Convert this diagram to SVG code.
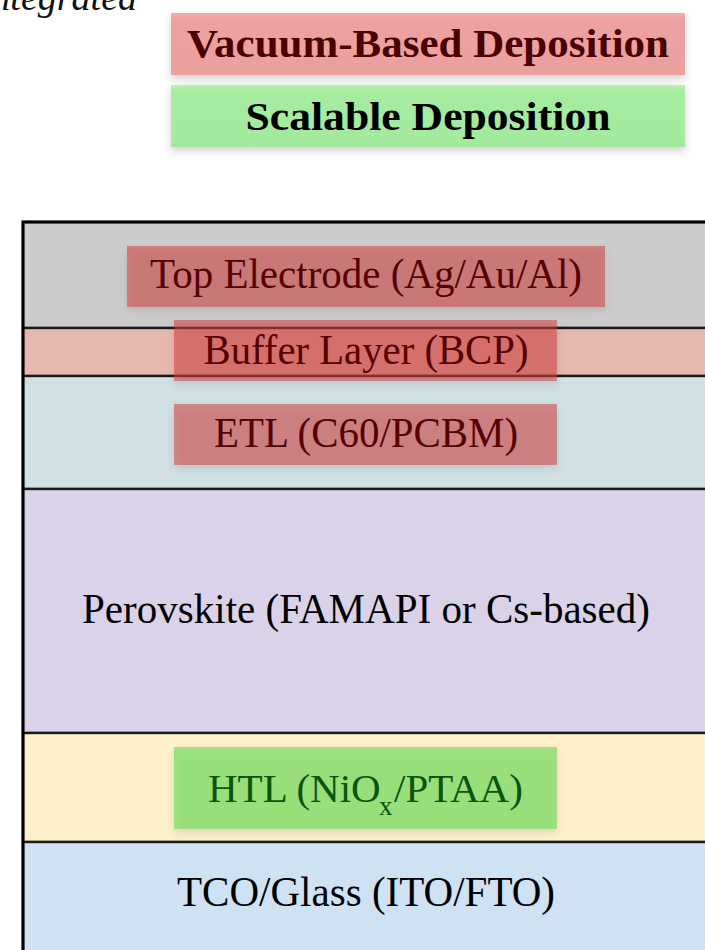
<svg xmlns="http://www.w3.org/2000/svg" width="705" height="950" viewBox="0 0 705 950">
  <defs>
    <filter id="shadow" x="-10%" y="-20%" width="120%" height="150%">
      <feDropShadow dx="0" dy="4" stdDeviation="4" flood-color="#000" flood-opacity="0.18"/>
    </filter>
    <linearGradient id="gVac" x1="0" y1="0" x2="0" y2="1">
      <stop offset="0" stop-color="#f6aaaa"/>
      <stop offset="0.12" stop-color="#eea1a1"/>
      <stop offset="1" stop-color="#eb9f9e"/>
    </linearGradient>
    <linearGradient id="gScal" x1="0" y1="0" x2="0" y2="1">
      <stop offset="0" stop-color="#b0f4a8"/>
      <stop offset="0.12" stop-color="#a5eca0"/>
      <stop offset="1" stop-color="#a3ea9f"/>
    </linearGradient>
  </defs>
  <style>
    .serif { font-family: "Liberation Serif", "Times New Roman", serif; }
    .layer { stroke: #1a1a1a; stroke-width: 2.4; }
    .vac { fill: rgba(208,64,64,0.55); filter: url(#shadow); }
    .scal { fill: rgba(100,220,80,0.6); filter: url(#shadow); }
    .lbl { font-size: 43px; text-anchor: middle; }
    .lblV { fill: #560000; }
    .lblS { fill: #0b540b; }
    .lblN { fill: #000; }
    .legend { font-size: 39px; font-weight: bold; text-anchor: middle; }
  </style>

  <rect width="705" height="950" fill="#ffffff"/>

  <!-- heading fragment -->
  <text class="serif" x="137" y="10" font-size="38" font-style="italic" text-anchor="end" fill="#111">Integrated</text>

  <!-- legend -->
  <g id="legend-vacuum">
    <rect x="171" y="13" width="514" height="62" fill="url(#gVac)" filter="url(#shadow)"/>
    <text class="serif legend" x="428" y="57" fill="#4a0000" textLength="482" lengthAdjust="spacingAndGlyphs">Vacuum-Based Deposition</text>
  </g>
  <g id="legend-scalable">
    <rect x="171" y="85" width="514" height="62" fill="url(#gScal)" filter="url(#shadow)"/>
    <text class="serif legend" x="428" y="130" fill="#000" textLength="365" lengthAdjust="spacingAndGlyphs">Scalable Deposition</text>
  </g>

  <!-- device stack -->
  <g id="layer-top-electrode">
    <rect class="layer" x="23" y="222" width="700" height="106" fill="#cccccc"/>
  </g>
  <g id="layer-buffer">
    <rect class="layer" x="23" y="328" width="700" height="48" fill="#e6b8b0"/>
  </g>
  <g id="layer-etl">
    <rect class="layer" x="23" y="376" width="700" height="113" fill="#d0e0e3"/>
  </g>
  <g id="layer-perovskite">
    <rect class="layer" x="23" y="489" width="700" height="244" fill="#d9d2e9"/>
    <text class="serif lbl lblN" x="366" y="623" textLength="568" lengthAdjust="spacingAndGlyphs">Perovskite (FAMAPI or Cs-based)</text>
  </g>
  <g id="layer-htl">
    <rect class="layer" x="23" y="733" width="700" height="109" fill="#fff0cc"/>
  </g>
  <g id="layer-tco">
    <rect class="layer" x="23" y="842" width="700" height="120" fill="#cfe2f3"/>
    <text class="serif lbl lblN" x="366" y="906" textLength="378" lengthAdjust="spacingAndGlyphs">TCO/Glass (ITO/FTO)</text>
  </g>
  <!-- outer frame -->
  <rect x="23" y="222" width="700" height="740" fill="none" stroke="#000" stroke-width="3"/>

  <!-- deposition labels -->
  <g id="label-top-electrode">
    <rect class="vac" x="127" y="246" width="478" height="61"/>
    <text class="serif lbl lblV" x="366" y="288" textLength="432" lengthAdjust="spacingAndGlyphs">Top Electrode (Ag/Au/Al)</text>
  </g>
  <g id="label-buffer">
    <rect class="vac" x="174" y="320" width="383" height="61"/>
    <text class="serif lbl lblV" x="366" y="364" textLength="325" lengthAdjust="spacingAndGlyphs">Buffer Layer (BCP)</text>
  </g>
  <g id="label-etl">
    <rect class="vac" x="174" y="404" width="383" height="61"/>
    <text class="serif lbl lblV" x="366" y="447" textLength="304" lengthAdjust="spacingAndGlyphs">ETL (C60/PCBM)</text>
  </g>
  <g id="label-htl">
    <rect class="scal" x="174" y="747" width="383" height="82"/>
    <text class="serif lblS" font-size="41"><tspan x="208" y="802">HTL (NiO</tspan><tspan x="379" y="815" font-size="27">x</tspan><tspan x="394" y="802">/PTAA)</tspan></text>
  </g>
</svg>
